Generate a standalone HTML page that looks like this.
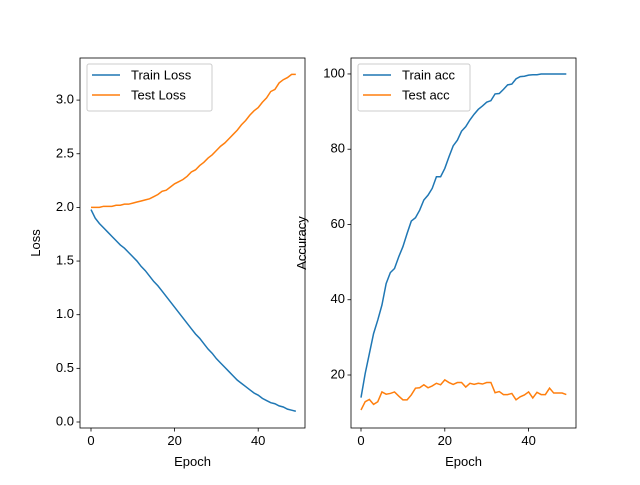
<!DOCTYPE html>
<html><head><meta charset="utf-8"><style>
body{margin:0;background:#fff}
text{font-family:"Liberation Sans","DejaVu Sans",sans-serif;font-size:13px;fill:#000}
</style></head><body>
<svg id="c" width="640" height="480" xmlns="http://www.w3.org/2000/svg"></svg>
<script>
const epochs=[...Array(50).keys()];
const trainLoss=[1.98,1.90,1.85,1.81,1.77,1.73,1.69,1.65,1.62,1.58,1.54,1.50,1.45,1.41,1.36,1.31,1.27,1.22,1.17,1.12,1.07,1.02,0.97,0.92,0.87,0.82,0.78,0.73,0.68,0.64,0.59,0.55,0.51,0.47,0.43,0.39,0.36,0.33,0.30,0.27,0.25,0.22,0.20,0.18,0.17,0.15,0.14,0.12,0.11,0.10];
const testLoss=[2.00,2.00,2.00,2.01,2.01,2.01,2.02,2.02,2.03,2.03,2.04,2.05,2.06,2.07,2.08,2.10,2.12,2.15,2.16,2.19,2.22,2.24,2.26,2.29,2.33,2.35,2.39,2.42,2.46,2.49,2.53,2.57,2.60,2.64,2.68,2.72,2.77,2.81,2.86,2.90,2.93,2.98,3.02,3.08,3.10,3.16,3.19,3.21,3.24,3.24];
const trainAcc=[14,20.4,25.7,31,34.6,38.6,44.3,47.2,48.3,51.4,54.1,57.6,60.9,61.8,63.8,66.5,67.8,69.6,72.7,72.7,74.9,78,80.9,82.4,84.8,86,87.8,89.3,90.6,91.5,92.5,92.9,94.7,94.8,95.9,97.1,97.3,98.7,99.3,99.4,99.7,99.8,99.8,100,100,100,100,100,100,100];
const testAcc=[10.7,12.9,13.5,12.2,12.9,15.5,14.9,15.1,15.5,14.4,13.4,13.4,14.7,16.5,16.6,17.4,16.6,17.1,17.8,17.4,18.7,18,17.5,18,18,16.8,17.8,17.5,17.8,17.6,18,18,15.3,15.6,14.8,14.8,15.1,13.4,14.2,14.7,15.5,13.9,15.4,14.8,14.8,16.5,15.2,15.2,15.2,14.8];
const lossTicks=[0,0.5,1,1.5,2,2.5,3];
const lossTickLabels=["0.0","0.5","1.0","1.5","2.0","2.5","3.0"];
const accTicks=[20,40,60,80,100];
const xTicks=[0,20,40];

const svg=document.getElementById('c');const NS='http://www.w3.org/2000/svg';
function mk(t,a,p){const e=document.createElementNS(NS,t);for(const k in a)e.setAttribute(k,a[k]);(p||svg).appendChild(e);return e;}
function panel(cfg){
  const g=mk('g',{});
  
  
  const {x0,x1,y0,y1}=cfg;
  const sx=v=>cfg.px0+(v-0)*cfg.pxs;
  const sy=v=>cfg.py0-(v-cfg.yb)*cfg.pys;
  cfg.series.forEach(s=>{
    const p=mk('polyline',{points:epochs.map((e,i)=>sx(e)+','+sy(s.data[i])).join(' '),fill:'none',stroke:s.color,'stroke-width':1.5},g);
    
    
  });
  const fr=mk('rect',{x:x0,y:y0,width:x1-x0,height:y1-y0,fill:'none',stroke:'#000','stroke-width':0.8},g);
  
  
  xTicks.forEach(t=>{const x=sx(t);mk('line',{x1:x,x2:x,y1:y1,y2:y1+3.5,stroke:'#000','stroke-width':0.8},g);
    const tx=mk('text',{x:x,y:y1+17,'text-anchor':'middle','font-size':'10px'},g);tx.textContent=t;
    
    });
  cfg.yt.forEach((t,i)=>{const y=sy(t);mk('line',{x1:x0-3.5,x2:x0,y1:y,y2:y,stroke:'#000','stroke-width':0.8},g);
    const tx=mk('text',{x:x0-6,y:y+3.5,'text-anchor':'end','font-size':'10px'},g);tx.textContent=cfg.ytl[i];
    
    });
  const xl=mk('text',{x:(x0+x1)/2,y:466,'text-anchor':'middle'},g);xl.textContent='Epoch';
  
  
  const yl=mk('text',{x:0,y:0,'text-anchor':'middle',transform:`translate(${cfg.ylx},${(y0+y1)/2}) rotate(-90)`},g);yl.textContent=cfg.ylab;
  
  
  const lg=mk('g',{},g);
  
  
  mk('rect',{x:x0+7,y:y0+6,width:cfg.lw,height:47,rx:2,fill:'#fff','fill-opacity':0.8,stroke:'#ccc'},lg);
  cfg.series.forEach((s,i)=>{const y=y0+17+i*20;
    mk('line',{x1:x0+12,x2:x0+40,y1:y,y2:y,stroke:s.color,'stroke-width':1.5},lg);
    const tx=mk('text',{x:x0+51,y:y+4.5},lg);tx.textContent=s.label;
    
    });
}
panel({name:'loss-panel',x0:80,x1:305,y0:58,y1:428,px0:91,pxs:4.18,py0:422,yb:0,pys:107.3,yt:lossTicks,ytl:lossTickLabels,ylab:'Loss',ylx:40,lw:125,
  series:[{id:'train-loss-line',data:trainLoss,color:'#1f77b4',label:'Train Loss'},{id:'test-loss-line',data:testLoss,color:'#ff7f0e',label:'Test Loss'}]});
panel({name:'accuracy-panel',x0:351,x1:576,y0:58,y1:428,px0:361,pxs:4.19,py0:375,yb:20,pys:3.763,yt:accTicks,ytl:accTicks.map(String),ylab:'Accuracy',ylx:306,lw:112,
  series:[{id:'train-acc-line',data:trainAcc,color:'#1f77b4',label:'Train acc'},{id:'test-acc-line',data:testAcc,color:'#ff7f0e',label:'Test acc'}]});
</script>
</body></html>
